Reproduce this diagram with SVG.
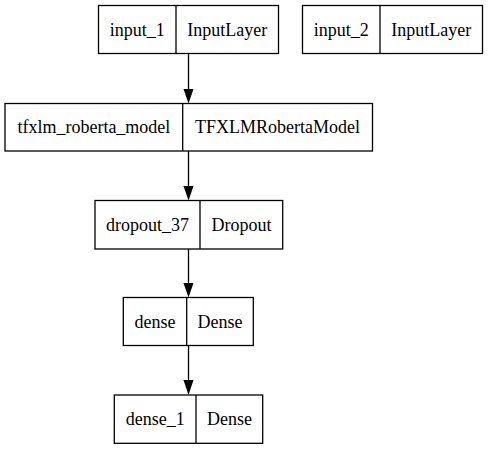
<svg xmlns="http://www.w3.org/2000/svg" width="488" height="449" viewBox="0 0 488 449">
<style>
rect{fill:#fff;stroke:#000;stroke-width:1.3}
.d{stroke:#000;stroke-width:1.3}
text{font-family:'Liberation Serif','Times New Roman','DejaVu Serif',serif;font-size:18px;text-anchor:middle;fill:#000}
.e{stroke:#000;stroke-width:1.3;fill:none}
</style>
<rect x="0" y="0" width="488" height="449" style="stroke:none"/>
<g id="connectors">
<line class="e" x1="188.5" y1="53.5" x2="188.5" y2="90"/>
<polygon points="183.5,89 193.5,89 188.5,103.5" fill="#000"/>
<line class="e" x1="188.5" y1="151" x2="188.5" y2="187"/>
<polygon points="183.5,186 193.5,186 188.5,200.5" fill="#000"/>
<line class="e" x1="188.5" y1="249" x2="188.5" y2="284"/>
<polygon points="183.5,283 193.5,283 188.5,297.5" fill="#000"/>
<line class="e" x1="188.5" y1="345.5" x2="188.5" y2="381"/>
<polygon points="183.5,380 193.5,380 188.5,395" fill="#000"/>
</g>
<g id="input_1" font-family="Liberation Serif, serif">
<rect x="98.5" y="5.5" width="180" height="48"/>
<line class="d" x1="176" y1="5.5" x2="176" y2="53.5"/>
<text x="137.3" y="35.5">input_1</text>
<text x="227.3" y="35.5">InputLayer</text>
</g>
<g id="input_2">
<rect x="302.5" y="5.5" width="180" height="48"/>
<line class="d" x1="380" y1="5.5" x2="380" y2="53.5"/>
<text x="341.3" y="35.5">input_2</text>
<text x="431.3" y="35.5">InputLayer</text>
</g>
<g id="tfxlm_roberta_model">
<rect x="5" y="103.5" width="367.5" height="47.5"/>
<line class="d" x1="182.7" y1="103.5" x2="182.7" y2="151"/>
<text x="93.9" y="133">tfxlm_roberta_model</text>
<text x="277.6" y="133">TFXLMRobertaModel</text>
</g>
<g id="dropout_37">
<rect x="95" y="200.5" width="187.7" height="48.5"/>
<line class="d" x1="200" y1="200.5" x2="200" y2="249"/>
<text x="147.5" y="230.5">dropout_37</text>
<text x="241.4" y="230.5">Dropout</text>
</g>
<g id="dense">
<rect x="123.3" y="297.5" width="130" height="48"/>
<line class="d" x1="186.7" y1="297.5" x2="186.7" y2="345.5"/>
<text x="155" y="327.5">dense</text>
<text x="220" y="327.5">Dense</text>
</g>
<g id="dense_1">
<rect x="114.3" y="395" width="148.4" height="48.3"/>
<line class="d" x1="196" y1="395" x2="196" y2="443.3"/>
<text x="155.2" y="425">dense_1</text>
<text x="229.4" y="425">Dense</text>
</g>
</svg>
